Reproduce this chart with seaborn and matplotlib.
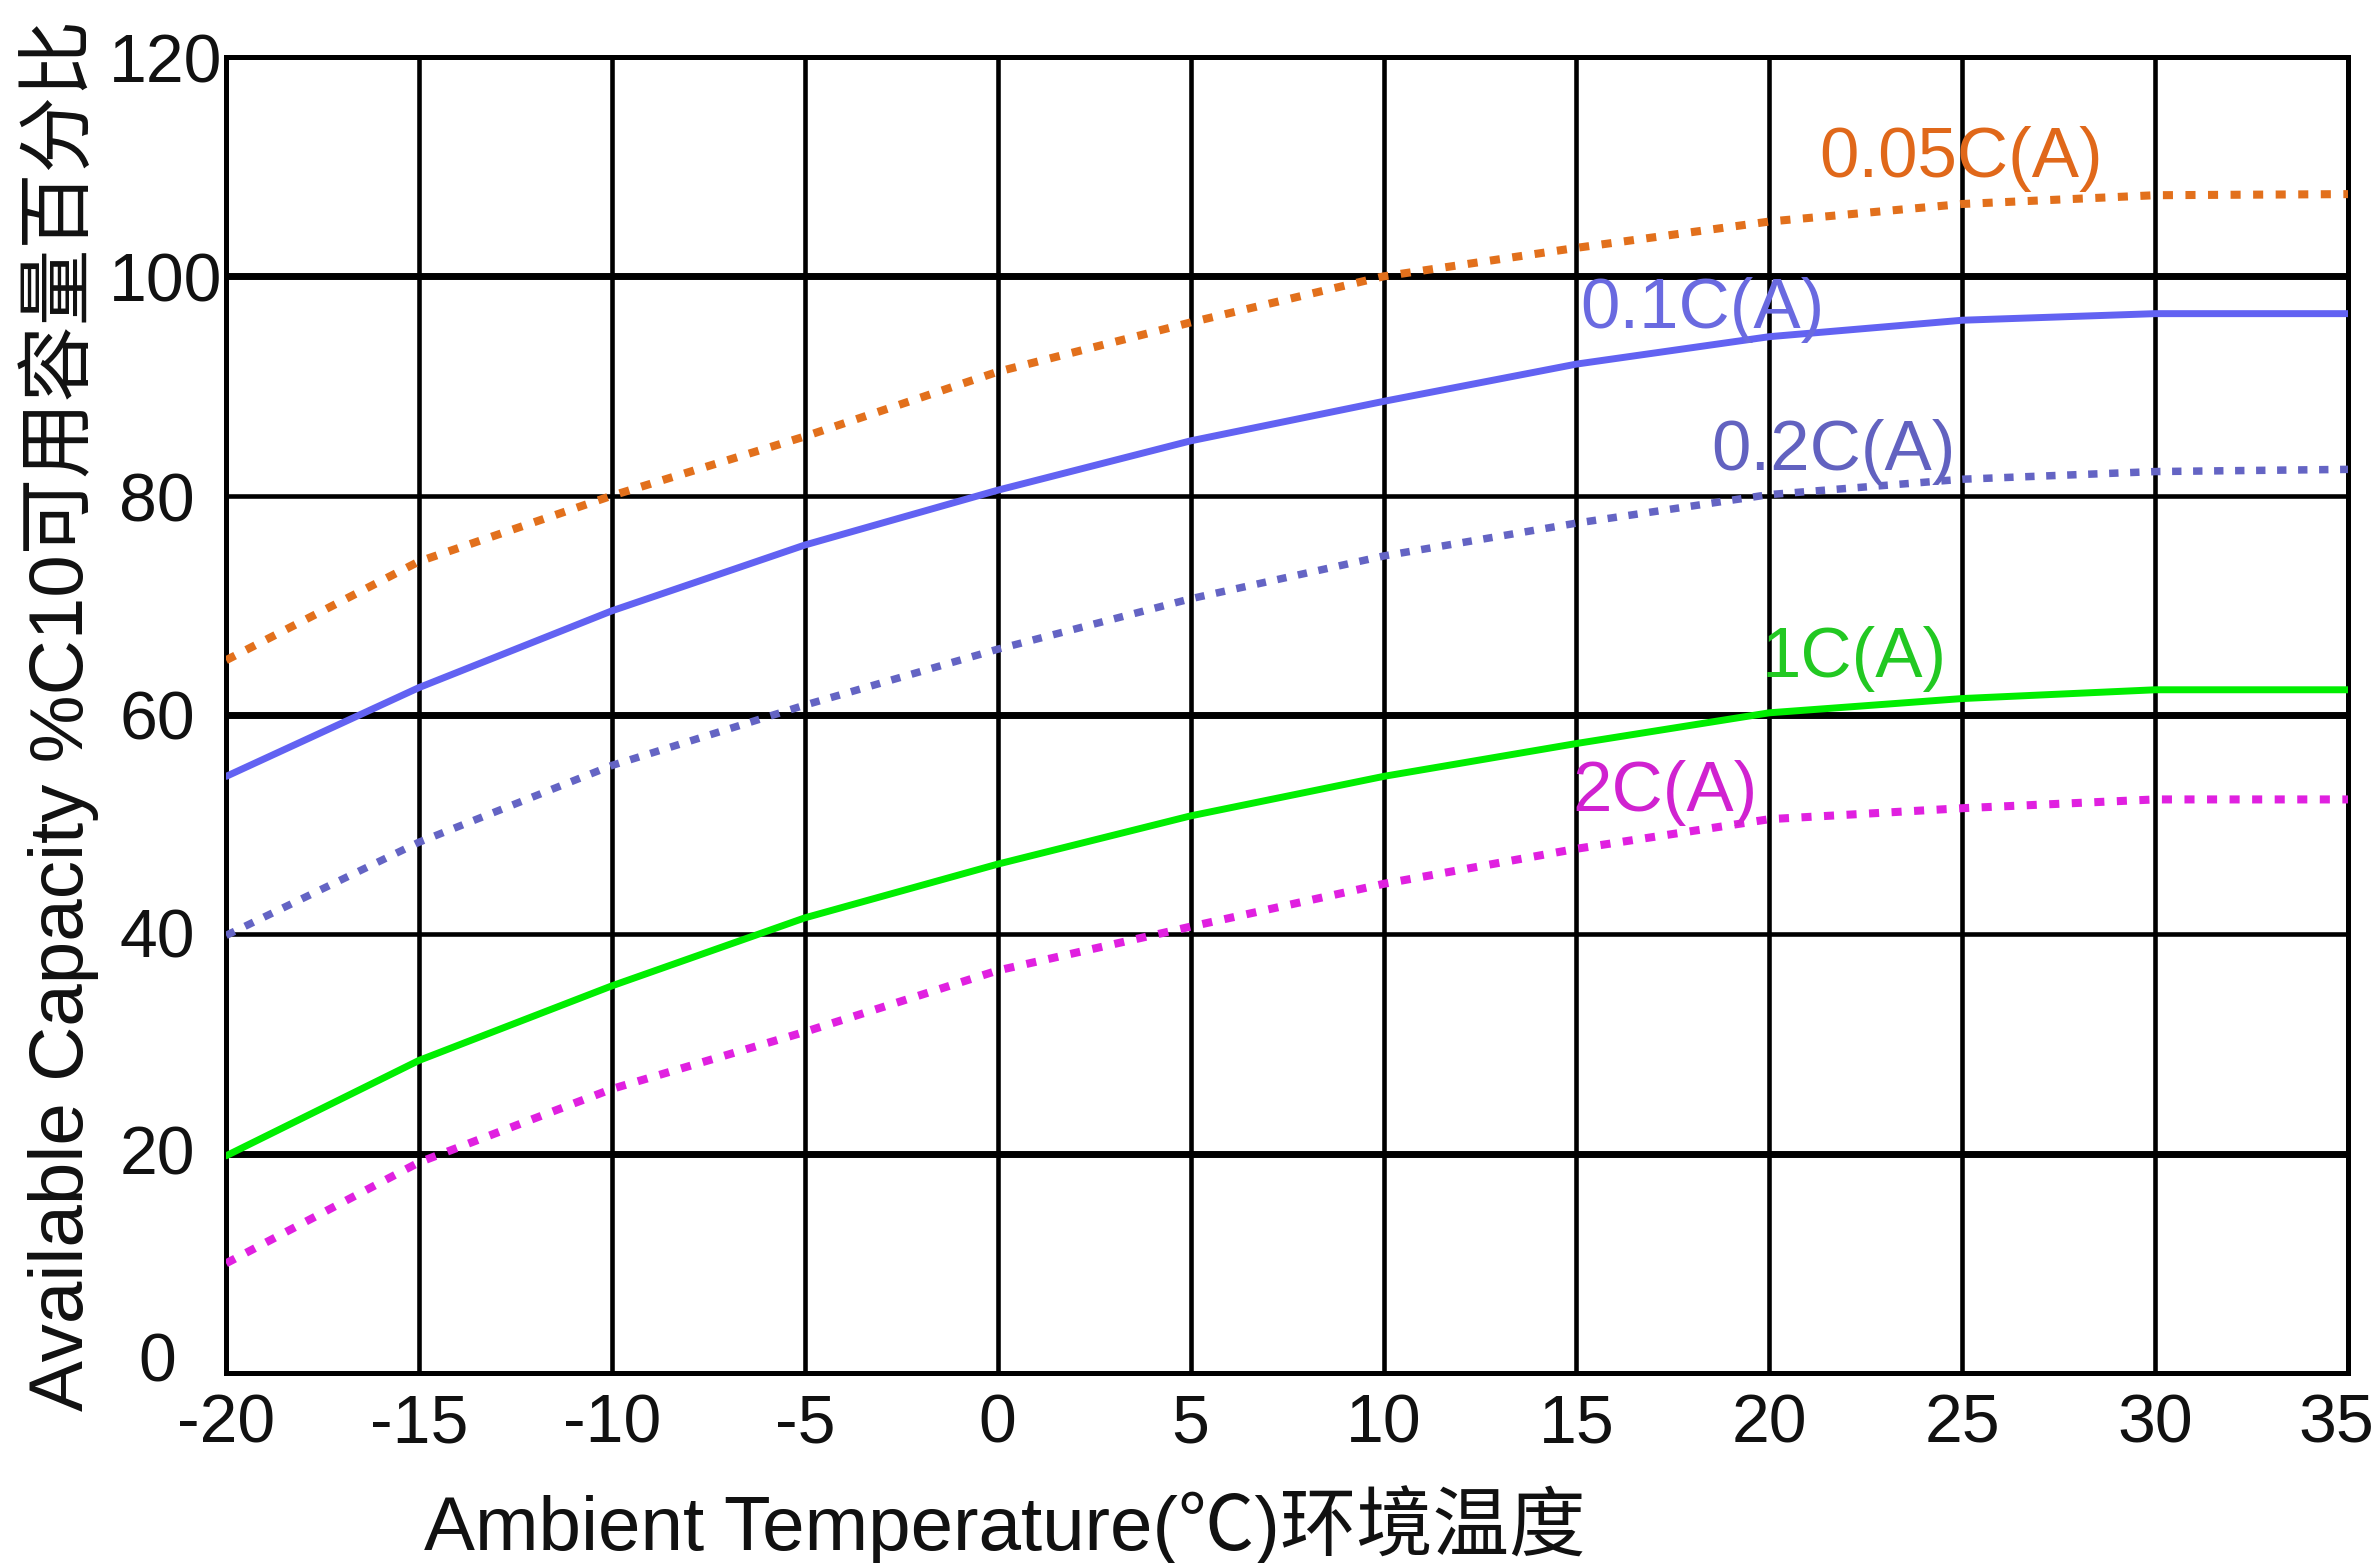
import matplotlib
matplotlib.use("Agg")
import matplotlib.pyplot as plt
import matplotlib.transforms as mtransforms
import seaborn as sns
import pandas as pd

# values
temps = [-20, -15, -10, -5, 0, 5, 10, 15, 20, 25, 30, 35]
cap_005c = [65, 74, 80, 85.4, 91.3, 95.8, 100, 102.6, 105, 106.6, 107.4, 107.5]
cap_01c = [54.4, 62.5, 69.5, 75.5, 80.5, 85, 88.6, 92, 94.5, 96, 96.6, 96.6]
cap_02c = [39.9, 48.4, 55.4, 60.9, 66, 70.6, 74.5, 77.5, 80.1, 81.5, 82.2, 82.4]
cap_1c = [19.8, 28.5, 35.3, 41.5, 46.4, 50.8, 54.4, 57.4, 60.2, 61.5, 62.3, 62.3]
cap_2c = [10, 19.2, 25.9, 31.1, 36.7, 40.7, 44.6, 47.8, 50.5, 51.5, 52.3, 52.3]

rates = ["0.05C(A)", "0.1C(A)", "0.2C(A)", "1C(A)", "2C(A)"]
line_colors = ["#e2701c", "#6262f2", "#6464c4", "#00ee00", "#e020e0"]
text_colors = ["#e0681a", "#6a6ae0", "#6262c0", "#22c822", "#d022d0"]
dash_styles = [(1.25, 1.55), "", (1.25, 1.55), "", (1.25, 1.55)]
line_widths = [5.8, 5.0, 5.4, 5.0, 5.8]
# label anchor (left x, center y) in data units
label_x = [21.3, 15.1, 18.5, 19.8, 14.9]
label_y = [110.7, 96.9, 84.0, 65.1, 52.9]

df = pd.concat([
    pd.DataFrame({"temp": temps, "cap": vals, "rate": r})
    for r, vals in zip(rates, [cap_005c, cap_01c, cap_02c, cap_1c, cap_2c])
])

sns.set_theme(style="white")
plt.rcParams["font.family"] = ["Liberation Sans", "Noto Sans CJK SC", "DejaVu Sans"]
plt.rcParams["axes.unicode_minus"] = False

fig = plt.figure(figsize=(23.8, 15.63), dpi=100)
ax = fig.add_axes([0.095, 0.1216, 0.8916, 0.8419])

sns.lineplot(data=df, x="temp", y="cap", hue="rate", style="rate",
             palette=dict(zip(rates, line_colors)),
             dashes=dict(zip(rates, dash_styles)),
             linewidth=4.6, legend=False, ax=ax, zorder=3)
for line, lw in zip(ax.lines, line_widths):
    line.set_linewidth(lw)

ax.set_xlim(-20, 35)
ax.set_ylim(0, 120)
ax.set_xticks(range(-20, 36, 5))
ax.set_yticks(range(0, 121, 20))
ax.grid(True, color="black", linewidth=3.3, zorder=1)
for yy in [20, 60, 100]:
    ax.axhline(yy, color="black", linewidth=5, zorder=1)
for s in ax.spines.values():
    s.set_color("black")
    s.set_linewidth(3.6)

ax.tick_params(axis="both", length=0, labelsize=49, colors="#111111")
ax.tick_params(axis="x", pad=14)
ax.tick_params(axis="y", pad=3)

for r, c, lx, ly in zip(rates, text_colors, label_x, label_y):
    ax.text(lx, ly, r, color=c, fontsize=51, ha="left", va="center", zorder=4)

ax.set_xlabel("Ambient Temperature(℃)环境温度", fontsize=55, color="#111111")
ax.set_ylabel("Available Capacity %C10可用容量百分比", fontsize=55, color="#111111")
ax.xaxis.set_label_coords(0.367, -0.085)
ax.yaxis.set_label_coords(-0.06, 0.5)

# the reference tick labels are not evenly aligned; nudge them (inches)
fig.canvas.draw()
y_shift = {0: (-0.46, 0.16), 1: (-0.27, 0.04), 2: (-0.27, 0.02), 3: (-0.27, 0.0), 4: (-0.27, -0.01)}
yticks = ax.yaxis.get_major_ticks()
for i, (dx, dy) in y_shift.items():
    lab = yticks[i].label1
    lab.set_transform(lab.get_transform() + mtransforms.ScaledTranslation(dx, dy, fig.dpi_scale_trans))
lab35 = ax.xaxis.get_major_ticks()[-1].label1
lab35.set_transform(lab35.get_transform() + mtransforms.ScaledTranslation(-0.12, 0, fig.dpi_scale_trans))

fig.savefig("out.png", dpi=100, facecolor="white")
